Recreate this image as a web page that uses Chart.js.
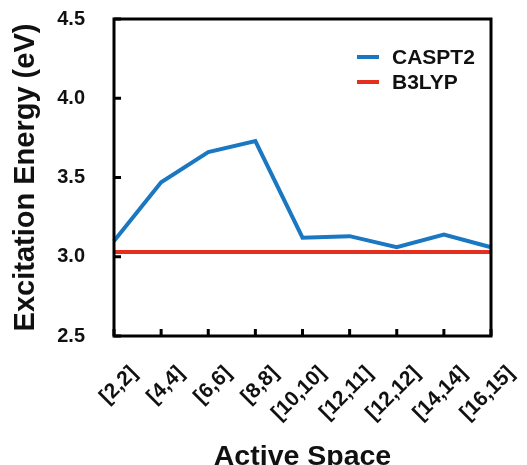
<!DOCTYPE html>
<html>
<head>
<meta charset="utf-8">
<script src="https://cdn.jsdelivr.net/npm/chart.js@4"></script>
<style>
  html, body { margin: 0; padding: 0; background: #fff; }
  #wrap { width: 527px; height: 465px; }
</style>
</head>
<body>
<div id="wrap"><canvas id="chart" width="527" height="465"></canvas></div>
<script>
const spaces = ['[2,2]', '[4,4]', '[6,6]', '[8,8]', '[10,10]', '[12,11]', '[12,12]', '[14,14]', '[16,15]'];
const caspt2 = [3.10, 3.47, 3.66, 3.73, 3.12, 3.13, 3.06, 3.14, 3.06];
const b3lyp = [3.03, 3.03, 3.03, 3.03, 3.03, 3.03, 3.03, 3.03, 3.03];
const yTicks = [2.5, 3.0, 3.5, 4.0, 4.5];

const FONT = '"Liberation Sans", Arial, sans-serif';

// frame, inward ticks and the legend inside the plot
const framePlugin = {
    id: 'frame',
    afterDatasetsDraw(chart) {
        const { ctx, chartArea: a, scales } = chart;
        ctx.save();
        ctx.strokeStyle = '#000';
        ctx.lineWidth = 3;
        ctx.strokeRect(a.left, a.top, a.right - a.left, a.bottom - a.top);
        ctx.beginPath();
        yTicks.forEach(v => {
            const y = scales.y.getPixelForValue(v);
            ctx.moveTo(a.left, y);
            ctx.lineTo(a.left + 7, y);
        });
        spaces.forEach((s, i) => {
            const x = scales.x.getPixelForValue(i);
            ctx.moveTo(x, a.bottom);
            ctx.lineTo(x, a.bottom - 7);
        });
        ctx.stroke();

        // legend
        ctx.font = 'bold 21px ' + FONT;
        ctx.textBaseline = 'middle';
        chart.data.datasets.forEach((ds, i) => {
            const y = a.top + 38 + i * 25;
            ctx.strokeStyle = ds.borderColor;
            ctx.lineWidth = 4;
            ctx.beginPath();
            ctx.moveTo(a.right - 134, y);
            ctx.lineTo(a.right - 112, y);
            ctx.stroke();
            ctx.fillStyle = '#111';
            ctx.fillText(ds.label, a.right - 99, y + 1);
        });
        ctx.restore();
    }
};

new Chart(document.getElementById('chart'), {
    type: 'line',
    data: {
        labels: spaces,
        datasets: [
            { label: 'CASPT2', data: caspt2, borderColor: '#1a78c2', borderWidth: 4, pointRadius: 0, tension: 0 },
            { label: 'B3LYP', data: b3lyp, borderColor: '#e62e1e', borderWidth: 4, pointRadius: 0, tension: 0 }
        ]
    },
    options: {
        responsive: false,
        animation: false,
        layout: { padding: { left: 9, right: 36, top: 19, bottom: -9 } },
        plugins: { legend: { display: false }, tooltip: { enabled: false } },
        scales: {
            x: {
                offset: false,
                grid: { display: false, drawTicks: false },
                border: { display: false },
                ticks: {
                    autoSkip: false, minRotation: 45, maxRotation: 45,
                    padding: 25, labelOffset: 20,
                    color: '#111', font: { family: FONT, size: 21, weight: 'bold' }
                },
                title: {
                    display: true, text: 'Active Space', color: '#111',
                    font: { family: FONT, size: 28.5, weight: 'bold' }, padding: 0
                },
                afterFit(scale) {
                    scale.height = 138;
                    scale.paddingLeft = 0;
                    scale.paddingRight = 0;
                }
            },
            y: {
                min: 2.5, max: 4.5,
                grid: { display: false, drawTicks: false },
                border: { display: false },
                ticks: {
                    stepSize: 0.5, padding: 29,
                    callback: v => v.toFixed(1),
                    color: '#111', font: { family: FONT, size: 20, weight: 'bold' }
                },
                title: {
                    display: true, text: 'Excitation Energy (eV)', color: '#111',
                    font: { family: FONT, size: 29, weight: 'bold' }, padding: 0
                },
                afterFit(scale) {
                    scale.width = 105;
                    scale.paddingTop = 0;
                    scale.paddingBottom = 0;
                }
            }
        }
    },
    plugins: [framePlugin]
});
</script>
</body>
</html>
